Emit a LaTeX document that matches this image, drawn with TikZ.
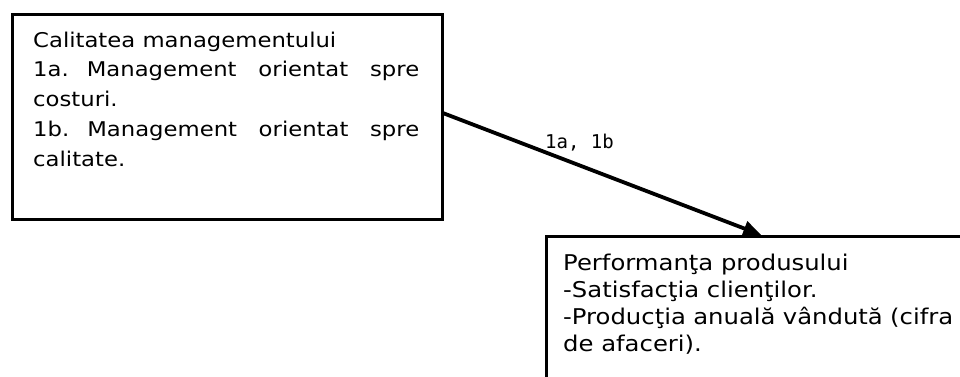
\documentclass[tikz,border=0pt]{standalone}
\usepackage{fontspec}
\setmainfont{DejaVu Sans}[FakeStretch=1.12]
\newfontfamily\labelfont{DejaVu Sans Mono}
\usetikzlibrary{arrows.meta,calc}

\tikzset{
  block/.style={draw=black, line width=2.5pt, fill=white, rectangle, inner sep=0pt},
  blocktext/.style={inner sep=0pt, anchor=base west},
  link/.style={line width=3.8pt, -{Triangle[length=18pt,width=15pt]}},
  linklabel/.style={inner sep=0pt, anchor=base west, font=\labelfont\fontsize{19}{22}\selectfont}
}

\begin{document}
\begin{tikzpicture}[x=1pt, y=-1pt]
  \clip (0,0) rectangle (960,376);
  \fill[white] (0,0) rectangle (960,376);

  % outline boxes
  \node[block, anchor=north west, minimum width=430pt, minimum height=205pt] (mgmt) at (11,13) {};
  \node[block, anchor=north west, minimum width=430pt, minimum height=205pt] (perf) at (545,235) {};

  % box contents
  \node[blocktext] (mgmttext) at (33,47) {\parbox[t]{386pt}{\fontsize{20.3}{29.75}\selectfont
    Calitatea managementului\\
    \makebox[386pt][s]{1a.\hspace{18pt}Management orientat spre}\\
    costuri.\\
    \makebox[386pt][s]{1b.\hspace{18pt}Management orientat spre}\\
    calitate.}};
  \node[blocktext] (perftext) at (563,270) {\parbox[t]{390pt}{\fontsize{21.7}{27.2}\selectfont
    Performanţa produsului\\
    -Satisfacţia clienţilor.\\
    -Producţia anuală vândută (cifra\\
    de afaceri).}};

  % influence arrow
  \draw[link] ($(mgmt.east)+(0,-3.5)$) -- (perf.north);
  \node[linklabel] (lbl) at (545,148) {1a, 1b};
\end{tikzpicture}
\end{document}
